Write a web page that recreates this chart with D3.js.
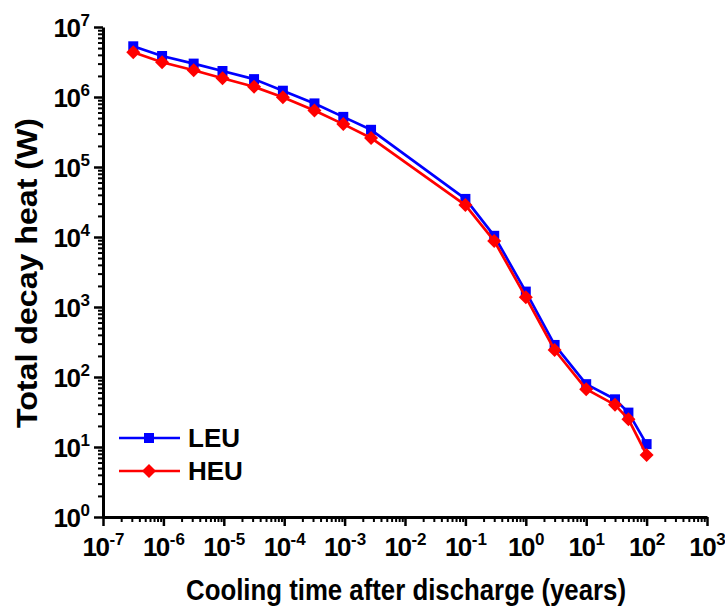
<!DOCTYPE html>
<html>
<head>
<meta charset="utf-8">
<script src="https://cdn.jsdelivr.net/npm/d3@7"></script>
<style>
  html, body { margin: 0; padding: 0; background: #fff; }
  svg { display: block; font-family: Arial, "Liberation Sans", sans-serif; font-weight: bold; }
</style>
</head>
<body>
<svg id="chart" width="725" height="607"></svg>
<script>
// ---- data ----
const coolingTimes = [3.17e-7, 9.51e-7, 3.17e-6, 9.51e-6, 3.17e-5, 9.51e-5, 3.17e-4, 9.51e-4, 2.74e-3, 0.1, 0.3, 1, 3, 10, 30, 50, 100];
const leuHeat = [5.3e6, 3.85e6, 3.0e6, 2.35e6, 1.8e6, 1.23e6, 8.1e5, 5.2e5, 3.4e5, 3.5e4, 1.04e4, 1.66e3, 287, 79, 48, 31, 11];
const heuHeat = [4.35e6, 3.13e6, 2.41e6, 1.85e6, 1.4e6, 9.9e5, 6.4e5, 4.1e5, 2.6e5, 2.86e4, 8.8e3, 1.38e3, 243, 67, 40, 25, 7.7];
const seriesNames = ["LEU", "HEU"];
const xExponents = [-7, -6, -5, -4, -3, -2, -1, 0, 1, 2, 3];
const yExponents = [0, 1, 2, 3, 4, 5, 6, 7];

const svg = d3.select("#chart");
const x = d3.scaleLog().domain([1e-7, 1e3]).range([103, 707]);
const y = d3.scaleLog().domain([1, 1e7]).range([517, 27]);

function minorTicks(exps) {
  const out = [];
  for (let i = 0; i < exps.length - 1; i++)
    for (let m = 2; m <= 9; m++) out.push(m * Math.pow(10, exps[i]));
  return out;
}

// minor ticks
svg.append("g").attr("transform", "translate(0,517)")
  .call(d3.axisBottom(x).tickValues(minorTicks(xExponents)).tickSize(5).tickFormat(""))
  .call(g => g.select(".domain").remove())
  .call(g => g.selectAll("line").attr("stroke", "#000").attr("stroke-width", 2));
svg.append("g").attr("transform", "translate(103,0)")
  .call(d3.axisLeft(y).tickValues(minorTicks(yExponents)).tickSize(5).tickFormat(""))
  .call(g => g.select(".domain").remove())
  .call(g => g.selectAll("line").attr("stroke", "#000").attr("stroke-width", 2));

// major axes
const xAxis = svg.append("g").attr("transform", "translate(0,517)")
  .call(d3.axisBottom(x).tickValues(xExponents.map(e => Math.pow(10, e))).tickSize(9).tickSizeOuter(0).tickFormat(""));
const yAxis = svg.append("g").attr("transform", "translate(103,0)")
  .call(d3.axisLeft(y).tickValues(yExponents.map(e => Math.pow(10, e))).tickSize(9).tickSizeOuter(0).tickFormat(""));
[xAxis, yAxis].forEach(g => {
  g.select(".domain").attr("stroke", "#000").attr("stroke-width", 3);
  g.selectAll(".tick line").attr("stroke", "#000").attr("stroke-width", 2.5);
});

// tick labels as 10^n
xAxis.selectAll(".tick").each(function(d) {
  const t = d3.select(this).select("text")
    .attr("y", 0).attr("dy", null).attr("fill", "#000")
    .attr("text-anchor", "middle").attr("font-size", 26).attr("font-weight", "bold")
    .attr("transform", "translate(0,39)");
  t.text(null);
  t.append("tspan").text("10").attr("letter-spacing", -1.5);
  t.append("tspan").text(Math.round(Math.log10(d))).attr("font-size", 17).attr("dy", -11).attr("dx", 1);
});
yAxis.selectAll(".tick").each(function(d) {
  const t = d3.select(this).select("text")
    .attr("x", 0).attr("dy", null).attr("fill", "#000")
    .attr("text-anchor", "end").attr("font-size", 26).attr("font-weight", "bold")
    .attr("transform", "translate(-13,9)");
  t.text(null);
  t.append("tspan").text("10").attr("letter-spacing", -1.5);
  t.append("tspan").text(Math.round(Math.log10(d))).attr("font-size", 17).attr("dy", -11).attr("dx", 1);
});

// axis titles
svg.append("text").attr("x", 406).attr("y", 600).attr("text-anchor", "middle")
  .attr("font-size", 29).attr("textLength", 440).attr("lengthAdjust", "spacingAndGlyphs")
  .text("Cooling time after discharge (years)");
svg.append("text").attr("transform", "translate(37,273) rotate(-90)").attr("text-anchor", "middle")
  .attr("font-size", 30).attr("textLength", 310).attr("lengthAdjust", "spacingAndGlyphs")
  .text("Total decay heat (W)");

// series
const squarePath = "M-5,-5H5V5H-5Z";
const diamondPath = "M0,-7L7,0L0,7L-7,0Z";
const series = [
  { name: seriesNames[0], values: leuHeat, color: "#0000ff", shape: squarePath },
  { name: seriesNames[1], values: heuHeat, color: "#ff0000", shape: diamondPath }
];
const line = d3.line().x(d => x(d[0])).y(d => y(d[1]));
series.forEach(s => {
  const pts = coolingTimes.map((t, i) => [t, s.values[i]]);
  svg.append("path").datum(pts).attr("d", line)
    .attr("fill", "none").attr("stroke", s.color).attr("stroke-width", 2.7).attr("stroke-linejoin", "round");
  svg.append("g").selectAll("path").data(pts).join("path")
    .attr("d", s.shape).attr("fill", s.color)
    .attr("transform", d => `translate(${x(d[0])},${y(d[1])})`);
});

// legend
const legend = svg.append("g");
series.forEach((s, i) => {
  const ly = 438 + i * 33;
  legend.append("line").attr("x1", 119).attr("x2", 180).attr("y1", ly).attr("y2", ly)
    .attr("stroke", s.color).attr("stroke-width", 2.7);
  legend.append("path").attr("d", s.shape).attr("fill", s.color).attr("transform", `translate(149,${ly})`);
  legend.append("text").attr("x", 188).attr("y", ly + 9).attr("font-size", 26).attr("fill", "#000").text(s.name);
});
</script>
</body>
</html>
